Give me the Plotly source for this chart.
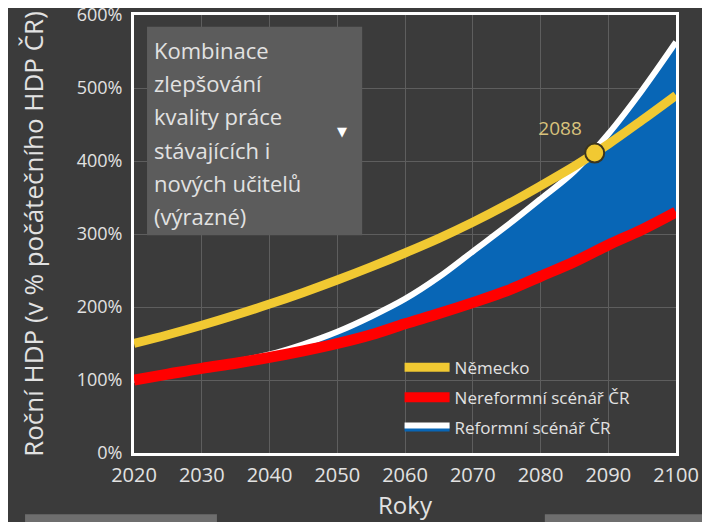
import plotly.graph_objects as go

# data (percent of initial Czech GDP)
years = [2020, 2025, 2030, 2035, 2040, 2045, 2050, 2055, 2060,
         2065, 2070, 2075, 2080, 2085, 2090, 2095, 2100]
nemecko = [150, 162, 175, 189, 204, 220, 237, 255, 274,
           294, 316, 340, 366, 393, 423, 456, 490]
nereformni = [100, 108, 116, 123, 131, 140, 150, 162, 177,
              191, 206, 222, 242, 262, 285, 306, 330]
reformni = [100, 108, 116, 125, 135, 149, 166, 187, 211,
            241, 276, 311, 348, 386, 437, 497, 563]
crossing_year = [2088]
crossing_value = [411]
y_ticks = [0, 100, 200, 300, 400, 500, 600]
y_labels = ["0%", "100%", "200%", "300%", "400%", "500%", "600%"]
x_ticks = [2020, 2030, 2040, 2050, 2060, 2070, 2080, 2090, 2100]
scenario_lines = ["Kombinace", "zlepšování", "kvality práce",
                  "stávajících i", "nových učitelů", "(výrazné)"]

BG = "#3b3b3b"
TXT = "#e2e2e2"
FONT = "Open Sans"
YELLOW = "#f1c932"
RED = "#ff0000"
BLUE = "#0866b6"

fig = go.Figure()

# invisible base for the blue band
fig.add_trace(go.Scatter(x=years, y=nereformni, mode="lines", line=dict(width=0),
                         line_shape="spline", showlegend=False, hoverinfo="skip"))
fig.add_trace(go.Scatter(x=years, y=reformni, mode="lines", name="Reformní scénář ČR",
                         line=dict(color="white", width=6), line_shape="spline",
                         fill="tonexty", fillcolor=BLUE, legendrank=3, legendgroup="c"))
fig.add_trace(go.Scatter(x=years, y=nereformni, mode="lines", name="Nereformní scénář ČR",
                         line=dict(color=RED, width=11), line_shape="spline",
                         legendrank=2, legendgroup="b"))
fig.add_trace(go.Scatter(x=years, y=nemecko, mode="lines", name="Německo",
                         line=dict(color=YELLOW, width=9), line_shape="spline",
                         legendrank=1, legendgroup="a"))
fig.add_trace(go.Scatter(x=crossing_year, y=crossing_value, mode="markers+text",
                         text=[str(crossing_year[0])], textposition="top left",
                         textfont=dict(color="#d8c27c", size=19, family=FONT),
                         marker=dict(size=19, color=YELLOW, line=dict(color="#3a3520", width=2)),
                         showlegend=False))

# scenario selector box
fig.add_shape(type="rect", xref="paper", yref="paper", x0=0.024, x1=0.421, y0=0.497, y1=0.973,
              fillcolor="#5c5c5c", line=dict(width=0), layer="above")
for i, line in enumerate(scenario_lines):
    fig.add_annotation(xref="paper", yref="paper", x=0.034, y=(453 - 50 - 33.2 * i) / 438,
                       text=line, showarrow=False, xanchor="left", yanchor="middle",
                       font=dict(color=TXT, size=22, family=FONT))
fig.add_annotation(xref="paper", yref="paper", x=(342 - 134) / 542, y=(453 - 131) / 438,
                   text="▼", showarrow=False, yanchor="middle",
                   font=dict(color="white", size=13, family="DejaVu Sans"))

# grey bars at the bottom edge
for x0, x1 in [(-0.201, 0.153), (0.758, 1.07)]:
    fig.add_shape(type="rect", xref="paper", yref="paper", x0=x0, x1=x1, y0=-0.158, y1=-0.140,
                  fillcolor="#6e6e6e", line=dict(width=0))

# the page body adds 8px, so the figure is 8px smaller than the window
fig.update_layout(
    width=702, height=514,
    margin=dict(l=126, r=34, t=7, b=69),
    paper_bgcolor=BG, plot_bgcolor=BG,
    font=dict(family=FONT, color=TXT),
    legend=dict(x=0.49, y=0.236, xanchor="left", yanchor="top", bgcolor="rgba(0,0,0,0)",
                font=dict(size=17, color=TXT, family=FONT), itemwidth=45,
                traceorder="grouped", tracegroupgap=5),
    xaxis=dict(range=[2020, 2100], tickvals=x_ticks, showline=True, linecolor="white",
               linewidth=3, mirror=True, gridcolor="#5e5e5e", gridwidth=1, zeroline=False,
               tickfont=dict(size=20), ticks="outside", ticklen=2, tickcolor=BG,
               ticklabeloverflow="allow", automargin=False,
               title=dict(text="Roky", font=dict(size=24), standoff=4)),
    yaxis=dict(range=[0, 600], tickvals=y_ticks, ticktext=y_labels, showline=True,
               linecolor="white", linewidth=3, mirror=True, gridcolor="#5e5e5e",
               gridwidth=1, zeroline=False, tickfont=dict(size=18), ticks="outside",
               ticklen=5, tickcolor=BG, ticklabeloverflow="allow", automargin=False,
               title=dict(text="Roční HDP (v % počátečního HDP ČR)", font=dict(size=26),
                          standoff=26)),
)

fig.write_html("out.html")
